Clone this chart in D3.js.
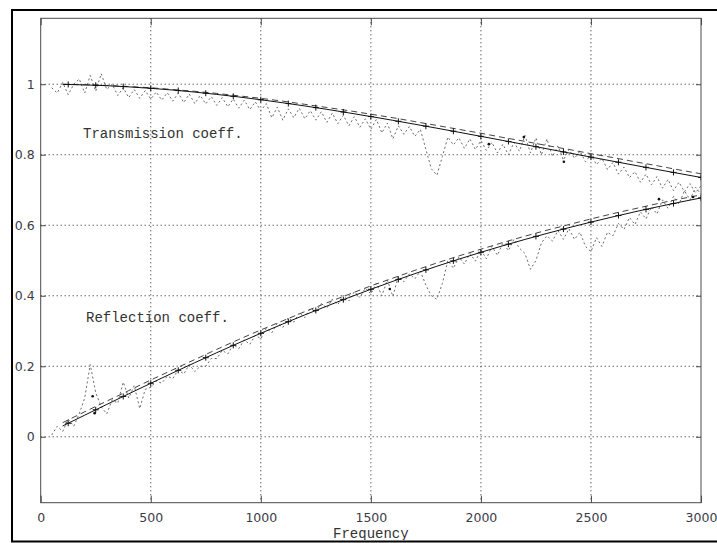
<!DOCTYPE html>
<html>
<head>
<meta charset="utf-8">
<script src="https://cdn.jsdelivr.net/npm/d3@7"></script>
<style>
  html, body { margin: 0; padding: 0; background: #fff; }
  svg { display: block; }
</style>
</head>
<body>
<svg id="chart" width="717" height="543"></svg>
<script>
// Sampling grid of the measured spectra (Hz)
const measFreq = d3.range(50, 3001, 25);

// Measured transmission coefficient
const transMeas = [
  0.99, 0.975, 1.005, 0.97, 1.0, 1.015, 0.975, 1.025, 0.98, 1.03,
  0.985, 1.0, 0.968, 0.99, 0.962, 0.985, 0.96, 0.982, 0.958, 0.978,
  0.955, 0.976, 0.952, 0.975, 0.948, 0.972, 0.945, 0.968, 0.944, 0.965,
  0.94, 0.962, 0.936, 0.958, 0.932, 0.955, 0.928, 0.95, 0.925, 0.945,
  0.905, 0.935, 0.898, 0.93, 0.905, 0.932, 0.902, 0.925, 0.898, 0.922,
  0.892, 0.918, 0.888, 0.912, 0.882, 0.908, 0.878, 0.902, 0.872, 0.9,
  0.862, 0.89, 0.845, 0.882, 0.858, 0.88, 0.852, 0.872, 0.815, 0.76,
  0.742, 0.795, 0.85, 0.828, 0.848, 0.818, 0.845, 0.815, 0.84, 0.812,
  0.835, 0.805, 0.83, 0.8, 0.835, 0.81, 0.855, 0.805, 0.848, 0.8,
  0.845, 0.795, 0.825, 0.785, 0.815, 0.79, 0.81, 0.78, 0.8, 0.772,
  0.79, 0.758, 0.778, 0.745, 0.765, 0.735, 0.752, 0.722, 0.745, 0.715,
  0.738, 0.705, 0.73, 0.698, 0.722, 0.695, 0.718, 0.692, 0.712
];

// Measured reflection coefficient
const reflMeas = [
  0.005, 0.03, 0.015, 0.05, 0.03, 0.065, 0.11, 0.205, 0.125, 0.085,
  0.065, 0.105, 0.095, 0.155, 0.11, 0.145, 0.08, 0.135, 0.14, 0.158,
  0.152, 0.172, 0.165, 0.19, 0.178, 0.205, 0.185, 0.2, 0.2, 0.222,
  0.222, 0.245, 0.235, 0.262, 0.25, 0.275, 0.262, 0.288, 0.278, 0.308,
  0.295, 0.322, 0.31, 0.338, 0.325, 0.352, 0.338, 0.365, 0.355, 0.378,
  0.365, 0.39, 0.375, 0.402, 0.385, 0.412, 0.395, 0.422, 0.405, 0.435,
  0.4, 0.445, 0.398, 0.455, 0.44, 0.462, 0.448, 0.47, 0.43, 0.4,
  0.39, 0.435, 0.5, 0.478, 0.51, 0.49, 0.52, 0.498, 0.53, 0.505,
  0.54, 0.515, 0.55, 0.528, 0.56, 0.535, 0.52, 0.475, 0.5, 0.55,
  0.57, 0.555, 0.585, 0.56, 0.59, 0.56, 0.58, 0.54, 0.525, 0.565,
  0.54, 0.58, 0.57, 0.605, 0.588, 0.622, 0.602, 0.638, 0.618, 0.652,
  0.632, 0.672, 0.648, 0.682, 0.66, 0.698, 0.672, 0.708, 0.688
];

// Model curves, 100 Hz steps
const modelFreq = [100, 200, 300, 400, 500, 600, 700, 800, 900, 1000,
  1100, 1200, 1300, 1400, 1500, 1600, 1700, 1800, 1900, 2000,
  2100, 2200, 2300, 2400, 2500, 2600, 2700, 2800, 2900, 3000];
const transModel = [0.9995, 0.9981, 0.9958, 0.9925, 0.9884, 0.9835, 0.9777, 0.9711, 0.9639, 0.9560,
  0.9474, 0.9384, 0.9288, 0.9187, 0.9083, 0.8976, 0.8865, 0.8753, 0.8638, 0.8522,
  0.8405, 0.8287, 0.8169, 0.8051, 0.7933, 0.7816, 0.7699, 0.7583, 0.7469, 0.7356];
const reflModel = [0.0307, 0.0613, 0.0917, 0.1219, 0.1517, 0.1812, 0.2101, 0.2385, 0.2663, 0.2935,
  0.3200, 0.3457, 0.3707, 0.3949, 0.4183, 0.4409, 0.4627, 0.4837, 0.5039, 0.5232,
  0.5419, 0.5597, 0.5768, 0.5932, 0.6089, 0.6238, 0.6382, 0.6519, 0.6650, 0.6775];
const transAlt = [1.0, 0.9985, 0.9965, 0.9935, 0.990, 0.985, 0.980, 0.974, 0.967, 0.960,
  0.952, 0.943, 0.934, 0.925, 0.915, 0.905, 0.894, 0.883, 0.872, 0.861,
  0.849, 0.838, 0.826, 0.815, 0.803, 0.792, 0.780, 0.769, 0.757, 0.746];
const reflAlt = [0.040, 0.071, 0.101, 0.131, 0.161, 0.190, 0.219, 0.248, 0.276, 0.303,
  0.329, 0.355, 0.380, 0.404, 0.428, 0.450, 0.472, 0.493, 0.513, 0.532,
  0.551, 0.569, 0.586, 0.602, 0.618, 0.633, 0.647, 0.661, 0.674, 0.686];

// Band points marked with "+"
const bandFreq = [125, 250, 375, 500, 625, 750, 875, 1000, 1125, 1250, 1375, 1500,
  1625, 1750, 1875, 2000, 2125, 2250, 2375, 2500, 2625, 2750, 2875, 3000];
const transBand = [0.9993, 0.9971, 0.9934, 0.9884, 0.9821, 0.9745, 0.9658, 0.9560, 0.9452, 0.9336, 0.9213, 0.9083,
  0.8948, 0.8809, 0.8667, 0.8522, 0.8375, 0.8228, 0.8080, 0.7933, 0.7786, 0.7641, 0.7498, 0.7356];
const reflBand = [0.0384, 0.0766, 0.1144, 0.1517, 0.1885, 0.2244, 0.2594, 0.2935, 0.3265, 0.3583, 0.3889, 0.4183,
  0.4464, 0.4733, 0.4989, 0.5232, 0.5464, 0.5684, 0.5891, 0.6089, 0.6275, 0.6451, 0.6617, 0.6775];

// Isolated single readings
const dotFreq = [236, 245, 1586, 2036, 2195, 2377, 2809, 2964];
const dotValue = [0.115, 0.067, 0.419, 0.83, 0.85, 0.78, 0.674, 0.68];

const xTicks = [0, 500, 1000, 1500, 2000, 2500, 3000];
const yTicks = [0, 0.2, 0.4, 0.6, 0.8, 1];

const svg = d3.select("#chart");
const L = 40.7, R = 701, T = 18.3, B = 502.7;
const x = d3.scaleLinear().domain([0, 3000]).range([L, R]);
const y = d3.scaleLinear().domain([-0.187, 1.187]).range([B, T]);

const gridColor = "#222";
const axisColor = "#4a4a4a";

// clip for the tick labels that run under the figure border
svg.append("defs").append("clipPath").attr("id", "fig")
  .append("rect").attr("x", 13).attr("y", 11).attr("width", 720).attr("height", 529);
svg.append("defs").append("clipPath").attr("id", "plot")
  .append("rect").attr("x", L).attr("y", T).attr("width", R - L).attr("height", B - T);

const root = svg.append("g").attr("clip-path", "url(#fig)");

// grid
const grid = root.append("g");
grid.selectAll("line.gx").data(xTicks.filter(d => d > 0 && d < 3000)).join("line")
  .attr("x1", d => x(d)).attr("x2", d => x(d)).attr("y1", T).attr("y2", B)
  .attr("stroke", gridColor).attr("stroke-width", 1).attr("stroke-dasharray", "1,3");
grid.selectAll("line.gy").data(yTicks).join("line")
  .attr("y1", d => y(d)).attr("y2", d => y(d)).attr("x1", L).attr("x2", R)
  .attr("stroke", gridColor).attr("stroke-width", 1).attr("stroke-dasharray", "1,3");

// axes with inward ticks on all sides
const tickLen = 7;
const axB = d3.axisBottom(x).tickValues(xTicks).tickSize(-tickLen).tickPadding(10).tickFormat(d3.format("d"));
const axT = d3.axisTop(x).tickValues(xTicks).tickSize(-tickLen).tickFormat("");
const axL = d3.axisLeft(y).tickValues(yTicks).tickSize(-5).tickPadding(6).tickFormat(d3.format("~g"));
const axR = d3.axisRight(y).tickValues(yTicks).tickSize(-5).tickFormat("");

function styleAxis(g) {
  g.select(".domain").remove();
  g.selectAll(".tick line").attr("stroke", axisColor);
  g.selectAll(".tick text").attr("fill", "#3c3c46")
    .style("font-family", "'DejaVu Sans', sans-serif").style("font-size", "12.5px");
}
root.append("g").attr("transform", `translate(0,${B})`).call(axB).call(styleAxis);
root.append("g").attr("transform", `translate(0,${T})`).call(axT).call(styleAxis);
root.append("g").attr("transform", `translate(${L},0)`).call(axL).call(styleAxis);
root.append("g").attr("transform", `translate(${R},0)`).call(axR).call(styleAxis);

root.append("rect").attr("x", L).attr("y", T).attr("width", R - L).attr("height", B - T)
  .attr("fill", "none").attr("stroke", axisColor).attr("stroke-width", 1);

// data
const plot = root.append("g").attr("clip-path", "url(#plot)");
const line = d3.line().x(d => x(d[0])).y(d => y(d[1]));
const zip = (a, b) => a.map((v, i) => [v, b[i]]).filter(d => d[1] != null);

[transMeas, reflMeas].forEach(s => {
  plot.append("path").datum(zip(measFreq, s)).attr("d", line)
    .attr("fill", "none").attr("stroke", "#6a6a6a").attr("stroke-width", 1)
    .attr("stroke-dasharray", "2,2.5");
});
[transAlt, reflAlt].forEach(s => {
  plot.append("path").datum(zip(modelFreq, s)).attr("d", line)
    .attr("fill", "none").attr("stroke", "#444").attr("stroke-width", 1)
    .attr("stroke-dasharray", "6,4");
});
[transModel, reflModel].forEach(s => {
  plot.append("path").datum(zip(modelFreq, s)).attr("d", line)
    .attr("fill", "none").attr("stroke", "#111").attr("stroke-width", 1);
});
[transBand, reflBand].forEach(s => {
  plot.append("g").selectAll("path").data(zip(bandFreq, s)).join("path")
    .attr("d", "M-3,0H3M0,-3V3")
    .attr("transform", d => `translate(${x(d[0])},${y(d[1])})`)
    .attr("stroke", "#111").attr("stroke-width", 1).attr("fill", "none");
});
plot.append("g").selectAll("circle").data(zip(dotFreq, dotValue)).join("circle")
  .attr("cx", d => x(d[0])).attr("cy", d => y(d[1])).attr("r", 1.3).attr("fill", "#111");

// labels
const mono = "'Liberation Mono', 'Courier New', monospace";
root.append("text").attr("x", 83).attr("y", 138).text("Transmission coeff.")
  .attr("fill", "#333").style("font-family", mono).style("font-size", "14px");
root.append("text").attr("x", 86).attr("y", 322).text("Reflection coeff.")
  .attr("fill", "#333").style("font-family", mono).style("font-size", "14px");
root.append("text").attr("x", (L + R) / 2).attr("y", 538).attr("text-anchor", "middle")
  .text("Frequency").attr("fill", "#333").style("font-family", mono).style("font-size", "14px");

// figure border
svg.append("rect").attr("x", 12).attr("y", 10).attr("width", 730).attr("height", 531.5)
  .attr("fill", "none").attr("stroke", "#000").attr("stroke-width", 2);
</script>
</body>
</html>
